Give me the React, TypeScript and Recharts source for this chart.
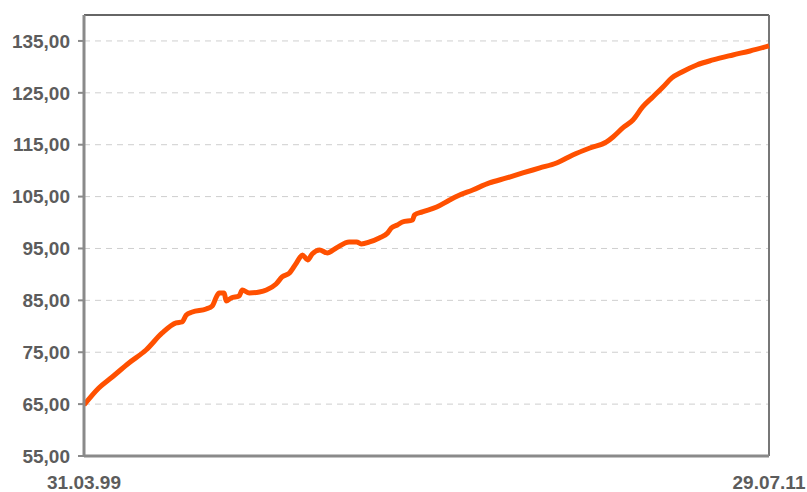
import { LineChart, Line, XAxis, YAxis, CartesianGrid, ReferenceLine } from "recharts";

// months since 31.03.99
const months = [
  0, 3.2, 6.1, 9.7, 13.4, 16.9, 19.9, 21.2, 22.1, 23.4, 26.4, 27.7, 28.6, 29.2,
  30.3, 30.7, 31.8, 33.5, 34.2, 35.7, 37.9, 39.4, 41.5, 42.8, 44.4, 45.9, 47.2,
  48.3, 49.3, 50.9, 52.6, 54.5, 57.3, 58.9, 59.9, 61.7, 63.8, 65.6, 66.4, 67.7,
  68.8, 71.0, 71.4, 73.1, 76.2, 79.0, 80.7, 84.0, 87.6, 91.3, 94.8, 98.5, 102.1,
  105.6, 109.3, 112.9, 114.3, 116.4, 118.6, 120.7, 122.9, 125.1, 127.0, 129.2,
  132.4, 135.9, 140.2, 143.9, 148,
];

const values = [
  64.83, 68.11, 70.23, 72.93, 75.43, 78.71, 80.64, 80.83, 82.18, 82.76, 83.34,
  83.92, 85.65, 86.42, 86.42, 84.88, 85.46, 85.84, 87.0, 86.42, 86.61, 87.0,
  88.16, 89.51, 90.28, 92.21, 93.75, 92.78, 93.94, 94.71, 94.13, 95.1, 96.25,
  96.25, 95.87, 96.25, 97.02, 97.99, 98.95, 99.53, 100.11, 100.49, 101.46,
  102.04, 103.0, 104.35, 105.12, 106.28, 107.63, 108.59, 109.55, 110.52,
  111.48, 113.02, 114.37, 115.53, 116.49, 118.23, 119.77, 122.28, 124.2,
  126.13, 127.87, 129.02, 130.37, 131.34, 132.3, 133.07, 134.04,
];

const xTicks = [0, 148];
const xLabels = ["31.03.99", "29.07.11"];
const yTicks = [55, 65, 75, 85, 95, 105, 115, 125, 135];

const data = months.map((m, i) => ({ m, v: values[i] }));

const tickStyle = {
  fontSize: 19,
  fontWeight: 700,
  fill: "#5c5c5c",
  fontFamily: "'Liberation Sans', Arial, sans-serif",
};

export default function App() {
  return (
    <div style={{ position: "absolute", left: 0, top: 0, background: "#fff" }}>
      <LineChart
        width={807}
        height={492}
        data={data}
        margin={{ top: 15, right: 38, left: 0, bottom: 0 }}
      >
        <CartesianGrid
          horizontal
          vertical={false}
          stroke="#cfcfcf"
          strokeDasharray="6 5"
        />
        <XAxis
          dataKey="m"
          type="number"
          domain={[0, 148]}
          ticks={xTicks}
          tickFormatter={(v: number) => xLabels[xTicks.indexOf(v)] ?? ""}
          tick={tickStyle}
          tickLine={false}
          tickSize={0}
          tickMargin={20}
          height={36}
          axisLine={{ stroke: "#8a8a8a", strokeWidth: 3 }}
        />
        <YAxis
          type="number"
          domain={[55, 140]}
          ticks={yTicks}
          tickFormatter={(v: number) => v.toFixed(2).replace(".", ",")}
          tick={tickStyle}
          tickSize={6}
          tickMargin={8}
          tickLine={{ stroke: "#8a8a8a", strokeWidth: 2 }}
          axisLine={{ stroke: "#8a8a8a", strokeWidth: 3 }}
          width={84}
          interval={0}
        />
        <ReferenceLine y={140} stroke="#666" strokeWidth={2} ifOverflow="visible" />
        <ReferenceLine x={148} stroke="#777" strokeWidth={2} ifOverflow="visible" />
        <Line
          type="monotone"
          dataKey="v"
          stroke="#FF5000"
          strokeWidth={5}
          dot={false}
          isAnimationActive={false}
        />
      </LineChart>
    </div>
  );
}
